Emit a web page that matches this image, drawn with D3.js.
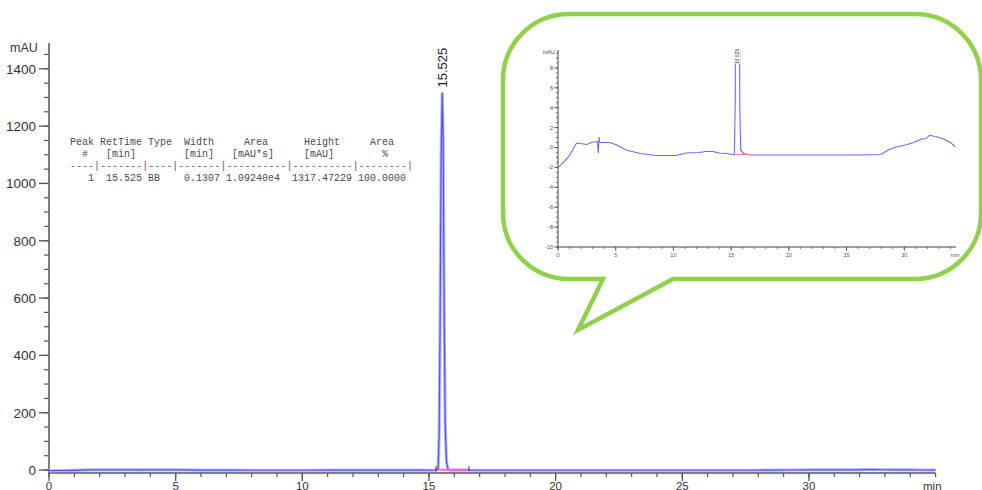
<!DOCTYPE html>
<html><head><meta charset="utf-8">
<script src="https://cdn.jsdelivr.net/npm/d3@7"></script>
<style>html,body{margin:0;padding:0;background:#fff;overflow:hidden}</style>
</head><body>
<svg id="c" width="982" height="490"></svg>
<script>
// ---- data ----
const time = [0, 0.4, 0.9, 1.3, 1.6, 1.9, 2.5, 3.0, 3.4, 3.5, 3.55, 3.6, 3.7, 3.9, 4.5, 5.1, 5.9, 7.1, 8.5, 10.2, 11.1, 12.2, 12.8, 13.4, 14.0, 14.6, 15.1, 15.28,
  15.36, 15.40, 15.44, 15.48, 15.525, 15.56, 15.60, 15.64, 15.69, 15.75, 15.83,
  16.1, 16.6, 18, 20, 22, 24, 26, 28, 28.6, 29.3, 30.1, 30.8, 31.5, 31.9, 32.2, 32.6, 32.9, 33.5, 34.0, 34.4, 35.0];
const signal = [-2.0, -1.6, -0.95, -0.2, 0.45, 0.4, 0.3, 0.55, 0.6, -0.55, 1.05, 0.55, 0.5, 0.5, 0.5, 0.25, -0.25, -0.6, -0.8, -0.8, -0.55, -0.5, -0.4, -0.4, -0.55, -0.6, -0.7, -0.7,
  5, 120, 520, 1100, 1317.47, 1150, 560, 160, 30, 4, -0.3,
  -0.6, -0.75, -0.75, -0.75, -0.75, -0.75, -0.75, -0.7, -0.25, 0.05, 0.25, 0.5, 0.85, 0.9, 1.25, 1.1, 1.05, 0.8, 0.5, 0.1, -0.1];
const peakTime = 15.525;
const peakHeight = 1317.47;
const peakLabel = "15.525";
const baselineStart = 15.28, baselineEnd = 16.58, baselineLevel = -0.7;

const xMajorTicks = [0, 5, 10, 15, 20, 25, 30];
const xMinorTicks = d3.range(0, 36, 1);
const yMajorTicks = [0, 200, 400, 600, 800, 1000, 1200, 1400];
const yMinorTicks = d3.range(0, 1451, 50);
const insetYTicks = [-10, -8, -6, -4, -2, 0, 2, 4, 6, 8];
const insetYMinor = d3.range(-10, 9.81, 0.5);
const insetXTicks = [0, 5, 10, 15, 20, 25, 30];
const insetXMinor = d3.range(0, 35, 1);

const tableRows = [
  "Peak RetTime Type  Width     Area      Height     Area",
  "  #   [min]        [min]   [mAU*s]     [mAU]        %",
  "----|-------|----|-------|----------|----------|--------|",
  "   1  15.525 BB    0.1307 1.09240e4  1317.47229 100.0000"
];

// ---- main chart ----
const svg = d3.select("#c");
const x = d3.scaleLinear().domain([0, 35]).range([49, 935.6]);
const y = d3.scaleLinear().domain([-10, 1490]).range([472.9, 43]);
const axisCol = "#555";
const txtCol = "#333";
const font = "Arial, 'Liberation Sans', sans-serif";
const pts = time.map((t, i) => [t, signal[i]]);

const g = svg.append("g");
// y axis
g.append("line").attr("x1", x(0)).attr("x2", x(0)).attr("y1", y(1490)).attr("y2", y(-10))
  .attr("stroke", axisCol).attr("stroke-width", 1.5);
g.selectAll(".ymin").data(yMinorTicks).join("line")
  .attr("x1", x(0) - 5).attr("x2", x(0)).attr("y1", d => y(d)).attr("y2", d => y(d))
  .attr("stroke", axisCol).attr("stroke-width", 1.2);
g.selectAll(".ymaj").data(yMajorTicks).join("line")
  .attr("x1", x(0) - 10).attr("x2", x(0)).attr("y1", d => y(d)).attr("y2", d => y(d))
  .attr("stroke", axisCol).attr("stroke-width", 1.3);
g.selectAll(".ylab").data(yMajorTicks).join("text")
  .attr("x", 36).attr("y", d => y(d)).attr("dy", "0.36em").attr("text-anchor", "end")
  .attr("font-family", font).attr("font-size", 13.5).attr("fill", txtCol)
  .text(d => d);
g.append("text").attr("x", 10).attr("y", 52).attr("font-family", font)
  .attr("font-size", 12.5).attr("fill", txtCol).text("mAU");
// x axis
g.append("line").attr("x1", x(0)).attr("x2", x(35)).attr("y1", y(-10)).attr("y2", y(-10))
  .attr("stroke", axisCol).attr("stroke-width", 1.5);
g.selectAll(".xmin").data(xMinorTicks).join("line")
  .attr("x1", d => x(d)).attr("x2", d => x(d)).attr("y1", y(-10)).attr("y2", y(-10) + 4)
  .attr("stroke", axisCol).attr("stroke-width", 1.2);
g.selectAll(".xmaj").data(xMajorTicks).join("line")
  .attr("x1", d => x(d)).attr("x2", d => x(d)).attr("y1", y(-10)).attr("y2", y(-10) + 8)
  .attr("stroke", axisCol).attr("stroke-width", 1.3);
g.selectAll(".xlab").data(xMajorTicks).join("text")
  .attr("x", d => x(d)).attr("y", 489.5).attr("text-anchor", "middle")
  .attr("font-family", font).attr("font-size", 11.5).attr("fill", txtCol)
  .text(d => d);
g.append("text").attr("x", 923).attr("y", 489.5).attr("font-family", font)
  .attr("font-size", 11.5).attr("fill", txtCol).text("min");

// trace
const line = d3.line().x(d => x(d[0])).y(d => y(d[1]));
g.append("path").datum(pts).attr("d", line).attr("fill", "none")
  .attr("stroke", "#b8b8ff").attr("stroke-width", 3.2);
g.append("path").datum(pts).attr("d", line).attr("fill", "none")
  .attr("stroke", "#5050ff").attr("stroke-width", 1.2);
// baseline (pink) + marks
g.append("line").attr("x1", x(baselineStart) + 2).attr("x2", x(baselineEnd))
  .attr("y1", y(baselineLevel) - 0.5).attr("y2", y(baselineLevel) - 0.5)
  .attr("stroke", "#ff66cc").attr("stroke-width", 2);
[baselineStart, baselineEnd].forEach(t => {
  g.append("line").attr("x1", x(t)).attr("x2", x(t)).attr("y1", y(baselineLevel) - 4).attr("y2", y(baselineLevel) + 1)
    .attr("stroke", "#333").attr("stroke-width", 1);
});
// peak label
g.append("text").attr("transform", `translate(${x(peakTime) + 4.5},${y(peakHeight) - 5}) rotate(-90)`)
  .attr("font-family", font).attr("font-size", 13).attr("fill", "#222")
  .text(peakLabel);

// table
const tbl = g.append("text").attr("font-family", "'Liberation Mono', 'Courier New', monospace")
  .attr("font-size", 10).attr("fill", "#4a4a4a").attr("xml:space", "preserve").style("white-space", "pre");
tableRows.forEach((r, i) => {
  const ts = tbl.append("tspan").attr("x", 70).attr("y", 145 + i * 12);
  if (i === 2) {
    r.split("").forEach(ch => {
      ts.append("tspan").attr("fill", ch === "|" ? "#a0306a" : "#666").text(ch);
    });
  } else ts.text(r);
});

// ---- inset bubble ----
const bx0 = 503, by0 = 14, bx1 = 981, by1 = 279, r = 66;
const tailL = 603, tailR = 673, tipX = 578, tipY = 330;
const bubble = d3.path();
bubble.moveTo(bx0 + r, by0);
bubble.lineTo(bx1 - r, by0);
bubble.arcTo(bx1, by0, bx1, by0 + r, r);
bubble.lineTo(bx1, by1 - r);
bubble.arcTo(bx1, by1, bx1 - r, by1, r);
bubble.lineTo(tailR, by1);
bubble.lineTo(tipX, tipY);
bubble.lineTo(tailL, by1);
bubble.lineTo(bx0 + r, by1);
bubble.arcTo(bx0, by1, bx0, by1 - r, r);
bubble.lineTo(bx0, by0 + r);
bubble.arcTo(bx0, by0, bx0 + r, by0, r);
bubble.closePath();
svg.append("path").attr("d", bubble.toString()).attr("fill", "#fff")
  .attr("stroke", "#8fd14a").attr("stroke-width", 4.5).attr("stroke-linejoin", "miter");

// ---- inset chart ----
const ix = d3.scaleLinear().domain([0, 35]).range([558, 962]);
const iy = d3.scaleLinear().domain([-10, 9.8]).range([247, 50]);
const ig = svg.append("g");
const iAx = "#444";
ig.append("line").attr("x1", ix(0)).attr("x2", ix(0)).attr("y1", iy(9.8)).attr("y2", iy(-10)).attr("stroke", iAx).attr("stroke-width", 1);
ig.selectAll(".iym").data(insetYMinor).join("line")
  .attr("x1", ix(0) - 2).attr("x2", ix(0)).attr("y1", d => iy(d)).attr("y2", d => iy(d)).attr("stroke", iAx).attr("stroke-width", 0.7);
ig.selectAll(".iyM").data(insetYTicks).join("line")
  .attr("x1", ix(0) - 4).attr("x2", ix(0)).attr("y1", d => iy(d)).attr("y2", d => iy(d)).attr("stroke", iAx).attr("stroke-width", 0.8);
ig.selectAll(".iyl").data(insetYTicks).join("text")
  .attr("x", ix(0) - 5).attr("y", d => iy(d)).attr("dy", "0.35em").attr("text-anchor", "end")
  .attr("font-family", "Arial, sans-serif").attr("font-size", 5.5).attr("fill", "#444").text(d => d);
ig.append("text").attr("x", ix(0) - 3).attr("y", 54).attr("text-anchor", "end")
  .attr("font-family", "Arial, sans-serif").attr("font-size", 5.5).attr("fill", "#444").text("mAU");
ig.append("line").attr("x1", ix(0)).attr("x2", ix(34.5)).attr("y1", iy(-10)).attr("y2", iy(-10)).attr("stroke", iAx).attr("stroke-width", 1);
ig.selectAll(".ixm").data(insetXMinor).join("line")
  .attr("x1", d => ix(d)).attr("x2", d => ix(d)).attr("y1", iy(-10)).attr("y2", iy(-10) + 2).attr("stroke", iAx).attr("stroke-width", 0.7);
ig.selectAll(".ixM").data(insetXTicks).join("line")
  .attr("x1", d => ix(d)).attr("x2", d => ix(d)).attr("y1", iy(-10)).attr("y2", iy(-10) + 4).attr("stroke", iAx).attr("stroke-width", 0.8);
ig.selectAll(".ixl").data(insetXTicks).join("text")
  .attr("x", d => ix(d)).attr("y", iy(-10) + 10).attr("text-anchor", "middle")
  .attr("font-family", "Arial, sans-serif").attr("font-size", 5.5).attr("fill", "#555").text(d => d);
ig.append("text").attr("x", ix(34.4)).attr("y", iy(-10) + 10).attr("text-anchor", "middle")
  .attr("font-family", "Arial, sans-serif").attr("font-size", 5.5).attr("fill", "#555").text("min");

svg.append("defs").append("clipPath").attr("id", "iclip").append("rect")
  .attr("x", ix(0)).attr("y", iy(9.8)).attr("width", ix(35) - ix(0)).attr("height", iy(-10) - iy(9.8));
const il = d3.line().x(d => ix(d[0])).y(d => iy(d[1]));
const ic = ig.append("g").attr("clip-path", "url(#iclip)");
ic.append("path").datum(pts.filter(d => d[0] <= 34.4)).attr("d", il).attr("fill", "none")
  .attr("stroke", "#6a6aff").attr("stroke-width", 1.1);
ic.append("line").attr("x1", ix(baselineStart)).attr("x2", ix(baselineEnd))
  .attr("y1", iy(baselineLevel)).attr("y2", iy(baselineLevel)).attr("stroke", "#ff66cc").attr("stroke-width", 1.2);
// inset peak label (white backing so the clipped peak does not cross it)
const ilx = ix(peakTime) + 1.8, ily = iy(9.8) + 14;
ig.append("rect").attr("x", ilx - 5).attr("y", ily - 14).attr("width", 6).attr("height", 14).attr("fill", "#fff");
ig.append("text").attr("transform", `translate(${ilx},${ily}) rotate(-90)`)
  .attr("font-family", "Arial, sans-serif").attr("font-size", 5).attr("fill", "#222").text(peakLabel);
</script>
</body></html>
